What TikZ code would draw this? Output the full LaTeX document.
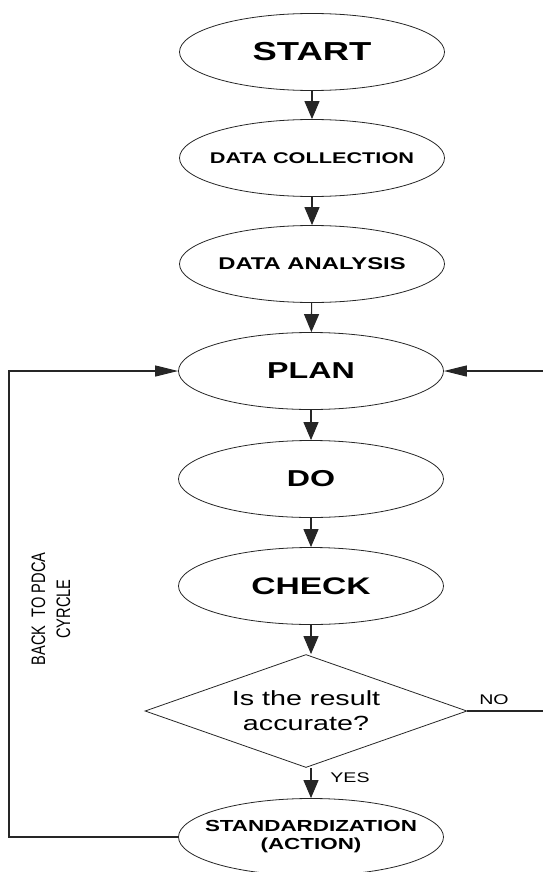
\documentclass[tikz,border=0pt]{standalone}
\usepackage{fontspec}
\setmainfont{Liberation Sans}[FakeStretch=1.4]
\newfontfamily\narrowsans{Liberation Sans}[FakeStretch=0.75]
\usetikzlibrary{shapes.geometric,arrows.meta}
\colorlet{flow line color}{black!85}
\tikzset{
    x={1pt},
    y={-1pt},
    process/.style={
        ellipse, draw=flow line color,
        line width={0.8pt},
        minimum width={265},
        minimum height={77},
        inner xsep=-20pt, inner ysep=0pt,
        align=center,
        font={\bfseries\fontsize{#1}{18}\selectfont},
    },
    process/.default={23},
    decision/.style={
        diamond, draw=flow line color,
        line width={0.8pt},
        aspect={2.85},
        minimum width={322},
        minimum height={113},
        inner sep=0pt,
        align=center,
        font={\fontsize{20.5}{25}\selectfont},
    },
    answer/.style={
        font={\fontsize{14}{16}\selectfont},
        inner sep=0pt,
    },
    loop note/.style={
        font={\narrowsans\fontsize{19.5}{25}\selectfont},
        align=center,
        inner sep=0pt,
        rotate=90,
    },
    flow/.style={
        draw=flow line color,
        line width={1.1pt},
        -{Triangle[length=18pt,width=15pt]},
    },
    loop back/.style={
        draw=flow line color,
        line width={1.1pt},
        -{Triangle[length=23pt,width=11pt]},
    },
}

\begin{document}
\begin{tikzpicture}
\useasboundingbox (0,0) rectangle (542,872);
% steps
\node[process={26}] (start) at (312,52) {START};
\node[process={15.5}] (collect) at (312,158) {DATA COLLECTION};
\node[process={17}] (analysis) at (312,264) {DATA ANALYSIS};
\node[process] (plan) at (311,371) {PLAN};
\node[process] (do) at (311,479) {DO};
\node[process={24}] (check) at (311,586) {CHECK};
\node[decision] (accurate) at (306,711) {Is the result\\accurate?};
\node[process={16}] (action) at (311,837) {STANDARDIZATION\\(ACTION)};
% labels
\node[answer] (no) at (494,700) {NO};
\node[answer] (yes) at (350,778) {YES};
\node[loop note] (back) at (51,609) {BACK\ \ TO PDCA\\CYRCLE};
% corners of the loops
\coordinate (back corner) at (9,371);
\coordinate (no corner) at (547,371);
% flow
\draw[flow] (start) -- (collect);
\draw[flow] (collect) -- (analysis);
\draw[flow] (analysis) -- (plan);
\draw[flow] (plan) -- (do);
\draw[flow] (do) -- (check);
\draw[flow] (check.south) -- (check.south |- accurate.north);
\draw[flow] (accurate.south -| action.north) -- (action.north);
\draw[loop back] (action.west) -| (back corner) -- (plan.west);
\draw[loop back] (accurate.east) -| (no corner) -- (plan.east);
\end{tikzpicture}
\end{document}
